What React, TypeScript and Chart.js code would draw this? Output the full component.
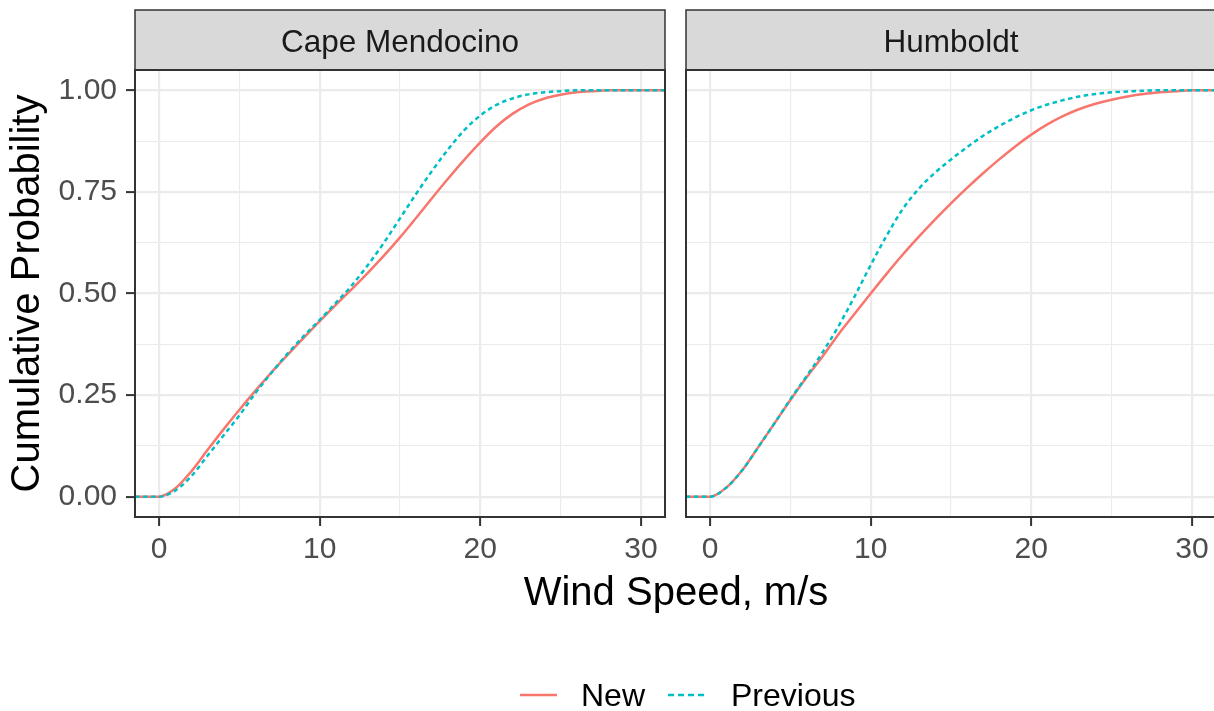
import React, { useEffect, useRef } from 'react';
import { Chart, registerables } from 'chart.js';

Chart.register(...registerables);

const FONT = '"Liberation Sans", Arial, Helvetica, sans-serif';
const W = 1214;
const H = 711;

// ---- data ----
const panelTitles = ['Cape Mendocino', 'Humboldt'];
const seriesNames = ['New', 'Previous'];
const seriesColors = ['#F8766D', '#00BFC4'];
const xTitle = 'Wind Speed, m/s';
const yTitle = 'Cumulative Probability';

const windSpeed = [
  -1.5, 0, 1, 2, 3, 4, 5, 6, 7, 8, 9, 10, 11, 12, 13, 14, 15, 16, 17, 18, 19, 20,
  21, 22, 23, 24, 25, 26, 27, 28, 29, 30, 31.5,
];
const capeNew = [
  0, 0, 0.02, 0.062, 0.114, 0.165, 0.214, 0.261, 0.306, 0.349, 0.391, 0.432, 0.472, 0.511,
  0.551, 0.593, 0.638, 0.686, 0.735, 0.783, 0.829, 0.872, 0.911, 0.942, 0.965, 0.98,
  0.989, 0.995, 0.998, 1, 1, 1, 1,
];
const capePrev = [
  0, 0, 0.015, 0.05, 0.1, 0.15, 0.2, 0.255, 0.305, 0.352, 0.395, 0.435, 0.477, 0.52,
  0.57, 0.625, 0.685, 0.745, 0.802, 0.855, 0.902, 0.938, 0.964, 0.98, 0.99, 0.995,
  0.998, 1, 1, 1, 1, 1, 1,
];
const humNew = [
  0, 0, 0.022, 0.065, 0.122, 0.18, 0.238, 0.293, 0.345, 0.4, 0.45, 0.5, 0.549, 0.596,
  0.64, 0.682, 0.722, 0.76, 0.796, 0.83, 0.862, 0.891, 0.916, 0.937, 0.954, 0.967,
  0.977, 0.985, 0.991, 0.995, 0.998, 1, 1,
];
const humPrev = [
  0, 0, 0.022, 0.065, 0.122, 0.18, 0.24, 0.296, 0.355, 0.42, 0.493, 0.57, 0.643, 0.708,
  0.758, 0.797, 0.83, 0.86, 0.888, 0.912, 0.933, 0.951, 0.965, 0.976, 0.985, 0.991,
  0.995, 0.997, 0.999, 1, 1, 1, 1,
];

const yMajorTicks = [0, 0.25, 0.5, 0.75, 1];
const yMinorTicks = [0.125, 0.375, 0.625, 0.875];
const xMajorTicks = [0, 10, 20, 30];
const xMinorTicks = [5, 15, 25];

// ---- geometry ----
const STRIP_TOP = 10;
const PANEL_TOP = 70;
const PANEL_BOTTOM = 517;
const panelX = [
  [135, 665],
  [686, 1216],
];
const canvasWidths = [W, 1232];

const isMajor = (list: number[], v: any) =>
  typeof v === 'number' && list.some((m) => Math.abs(m - v) < 1e-9);

function framePlugin(idx: number) {
  return {
    id: 'frame' + idx,
    afterDraw(chart: any) {
      const { ctx, chartArea: ca } = chart;
      ctx.save();
      // strip
      ctx.fillStyle = '#D9D9D9';
      ctx.fillRect(ca.left, STRIP_TOP, ca.right - ca.left, PANEL_TOP - STRIP_TOP);
      ctx.strokeStyle = '#333333';
      ctx.lineWidth = 1.5;
      ctx.strokeRect(ca.left, STRIP_TOP, ca.right - ca.left, PANEL_TOP - STRIP_TOP);
      ctx.fillStyle = '#1A1A1A';
      ctx.font = `31.5px ${FONT}`;
      ctx.textAlign = 'center';
      ctx.textBaseline = 'alphabetic';
      ctx.fillText(panelTitles[idx], (ca.left + ca.right) / 2, 52);
      // panel border
      ctx.lineWidth = 2;
      ctx.strokeRect(ca.left, ca.top, ca.right - ca.left, ca.bottom - ca.top);

      if (idx === 0) {
        // x axis title (shared)
        ctx.fillStyle = '#000000';
        ctx.font = `40px ${FONT}`;
        ctx.textAlign = 'center';
        ctx.fillText(xTitle, 676, 605);
        // legend
        const ly = 695;
        ctx.font = `32px ${FONT}`;
        ctx.textAlign = 'left';
        ctx.lineWidth = 2.5;
        ctx.strokeStyle = seriesColors[0];
        ctx.setLineDash([]);
        ctx.beginPath();
        ctx.moveTo(520, ly);
        ctx.lineTo(557, ly);
        ctx.stroke();
        ctx.fillStyle = '#000000';
        ctx.fillText(seriesNames[0], 581, 706);
        ctx.strokeStyle = seriesColors[1];
        ctx.setLineDash([6, 4]);
        ctx.beginPath();
        ctx.moveTo(668, ly);
        ctx.lineTo(707, ly);
        ctx.stroke();
        ctx.setLineDash([]);
        ctx.fillText(seriesNames[1], 731, 706);
      }
      ctx.restore();
    },
  };
}

function buildConfig(idx: number): any {
  const [pl, pr] = panelX[idx];
  const isLeft = idx === 0;
  const vals = idx === 0 ? [capeNew, capePrev] : [humNew, humPrev];
  const datasets = seriesNames.map((name, s) => ({
    label: name,
    data: windSpeed.map((x, i) => ({ x, y: vals[s][i] })),
    borderColor: seriesColors[s],
    backgroundColor: seriesColors[s],
    borderWidth: 2.5,
    borderDash: s === 1 ? [4.5, 3.5] : [],
    pointRadius: 0,
    cubicInterpolationMode: 'monotone',
    fill: false,
    order: s === 0 ? 2 : 1,
  }));
  const xAll = [...xMajorTicks, ...xMinorTicks].sort((a, b) => a - b);
  const yAll = [...yMajorTicks, ...yMinorTicks].sort((a, b) => a - b);
  return {
    type: 'line',
    data: { datasets },
    options: {
      responsive: false,
      animation: false,
      events: [],
      layout: {
        padding: { left: 0, top: PANEL_TOP, right: canvasWidths[idx] - pr, bottom: 0 },
      },
      plugins: { legend: { display: false }, tooltip: { enabled: false } },
      scales: {
        x: {
          type: 'linear',
          min: -1.5,
          max: 31.5,
          afterBuildTicks: (s: any) => {
            s.ticks = xAll.map((v) => ({ value: v }));
          },
          afterFit: (s: any) => {
            s.height = H - PANEL_BOTTOM;
          },
          ticks: {
            autoSkip: false,
            maxRotation: 0,
            padding: 6,
            color: '#4D4D4D',
            font: { family: FONT, size: 30 },
            callback: (v: any) => (isMajor(xMajorTicks, v) ? String(v) : ''),
          },
          grid: {
            color: '#EBEBEB',
            lineWidth: (c: any) => (c.tick && isMajor(xMajorTicks, c.tick.value) ? 2.2 : 1.1),
            tickLength: 9,
            tickWidth: 2,
            tickColor: (c: any) =>
              c.tick && isMajor(xMajorTicks, c.tick.value) ? '#333333' : 'rgba(0,0,0,0)',
          },
          border: { display: false },
        },
        y: {
          type: 'linear',
          min: -0.05,
          max: 1.05,
          afterBuildTicks: (s: any) => {
            s.ticks = yAll.map((v) => ({ value: v }));
          },
          afterFit: (s: any) => {
            s.width = pl;
          },
          ticks: {
            display: isLeft,
            autoSkip: false,
            padding: 9,
            color: '#4D4D4D',
            font: { family: FONT, size: 30 },
            callback: (v: any) => (isMajor(yMajorTicks, v) ? Number(v).toFixed(2) : ''),
          },
          grid: {
            color: '#EBEBEB',
            lineWidth: (c: any) => (c.tick && isMajor(yMajorTicks, c.tick.value) ? 2.2 : 1.1),
            drawTicks: isLeft,
            tickLength: isLeft ? 9 : 0,
            tickWidth: 2,
            tickColor: (c: any) =>
              c.tick && isMajor(yMajorTicks, c.tick.value) ? '#333333' : 'rgba(0,0,0,0)',
          },
          title: {
            display: isLeft,
            text: yTitle,
            color: '#000000',
            font: { family: FONT, size: 40 },
            padding: { top: 4, bottom: 0 },
          },
          border: { display: false },
        },
      },
    },
    plugins: [framePlugin(idx)],
  };
}

export default function App() {
  const leftRef = useRef<HTMLCanvasElement>(null);
  const rightRef = useRef<HTMLCanvasElement>(null);
  useEffect(() => {
    const c1 = new Chart(leftRef.current as HTMLCanvasElement, buildConfig(0));
    const c2 = new Chart(rightRef.current as HTMLCanvasElement, buildConfig(1));
    return () => {
      c1.destroy();
      c2.destroy();
    };
  }, []);
  return (
    <div
      style={{
        position: 'absolute',
        left: 0,
        top: 0,
        width: W,
        height: H,
        overflow: 'hidden',
        background: '#ffffff',
      }}
    >
      <canvas
        ref={leftRef}
        width={W}
        height={H}
        style={{ position: 'absolute', left: 0, top: 0, width: W, height: H }}
      />
      <canvas
        ref={rightRef}
        width={canvasWidths[1]}
        height={H}
        style={{ position: 'absolute', left: 0, top: 0, width: canvasWidths[1], height: H }}
      />
    </div>
  );
}
